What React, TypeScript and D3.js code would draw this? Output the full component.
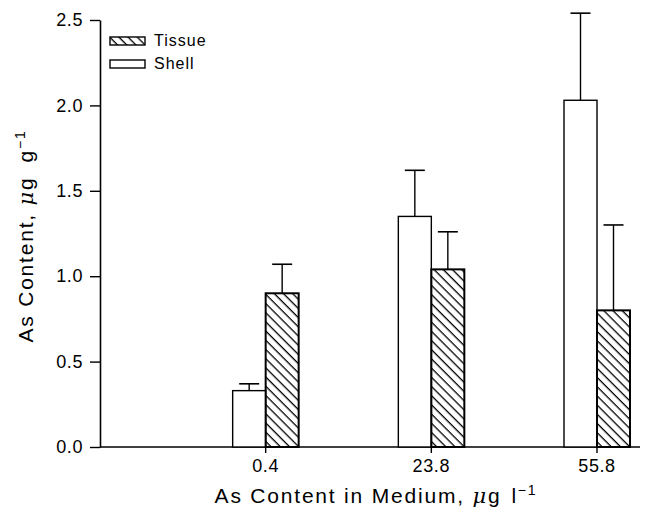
import React, { useEffect, useRef } from "react";
import * as d3 from "d3";

const categories = ["0.4", "23.8", "55.8"];
const shellValues = [0.33, 1.35, 2.03];
const shellErrors = [0.04, 0.27, 0.51];
const tissueValues = [0.9, 1.04, 0.8];
const tissueErrors = [0.17, 0.22, 0.5];
const yTicks = [0, 0.5, 1.0, 1.5, 2.0, 2.5];

const App = () => {
  const ref = useRef<SVGSVGElement>(null);

  useEffect(() => {
    const svg = d3.select(ref.current);
    svg.selectAll("*").remove();

    const width = 645;
    const height = 517;
    const left = 100;
    const font = "'Liberation Sans', Arial, sans-serif";

    const x = d3.scaleLinear().domain([0, 3]).range([left, 597]);
    const y = d3.scaleLinear().domain([0, 2.5]).range([447, 20]);
    const barW = 33;

    svg.attr("width", width).attr("height", height);

    const defs = svg.append("defs");
    const pat = defs
      .append("pattern")
      .attr("id", "hatch")
      .attr("patternUnits", "userSpaceOnUse")
      .attr("width", 6.5)
      .attr("height", 6.5)
      .attr("patternTransform", "rotate(45)");
    pat
      .append("line")
      .attr("x1", 0)
      .attr("y1", 0)
      .attr("x2", 6.5)
      .attr("y2", 0)
      .attr("stroke", "#000")
      .attr("stroke-width", 2.6);

    // y axis
    const yAxis = svg
      .append("g")
      .attr("transform", `translate(${left},0)`)
      .call(
        d3
          .axisLeft(y)
          .tickValues(yTicks)
          .tickFormat(d3.format(".1f"))
          .tickSizeInner(10)
          .tickSizeOuter(0)
      );
    yAxis.select(".domain").attr("stroke-width", 1.6);
    yAxis.selectAll(".tick line").attr("stroke-width", 1.4);
    yAxis
      .selectAll(".tick text")
      .attr("font-family", font)
      .attr("font-size", 18)
      .attr("letter-spacing", 0.6)
      .attr("x", -17)
      .attr("fill", "#000");

    // x axis
    svg
      .append("line")
      .attr("x1", left)
      .attr("x2", 640)
      .attr("y1", y(0))
      .attr("y2", y(0))
      .attr("stroke", "#000")
      .attr("stroke-width", 1.6);

    const xt = svg
      .append("g")
      .selectAll("g")
      .data(categories)
      .enter()
      .append("g")
      .attr("transform", (_, i) => `translate(${x(i + 1)},${y(0)})`);
    xt.append("line").attr("y1", 0).attr("y2", 6).attr("stroke", "#000").attr("stroke-width", 1.4);
    xt.append("text")
      .attr("y", 25)
      .attr("text-anchor", "middle")
      .attr("font-family", font)
      .attr("font-size", 18)
      .attr("letter-spacing", 0.6)
      .text((d) => d);

    // bars
    const drawBars = (vals: number[], errs: number[], offset: number, fill: string, sw: number) => {
      const g = svg.append("g");
      vals.forEach((v, i) => {
        const x0 = x(i + 1) + offset;
        const cx = x0 + barW / 2;
        g.append("line")
          .attr("x1", cx)
          .attr("x2", cx)
          .attr("y1", y(v))
          .attr("y2", y(v + errs[i]))
          .attr("stroke", "#000")
          .attr("stroke-width", 1.4);
        g.append("line")
          .attr("x1", cx - 10)
          .attr("x2", cx + 10)
          .attr("y1", y(v + errs[i]))
          .attr("y2", y(v + errs[i]))
          .attr("stroke", "#000")
          .attr("stroke-width", 1.6);
        g.append("rect")
          .attr("x", x0)
          .attr("y", y(v))
          .attr("width", barW)
          .attr("height", y(0) - y(v))
          .attr("fill", fill)
          .attr("stroke", "#000")
          .attr("stroke-width", sw);
      });
    };
    drawBars(shellValues, shellErrors, -barW, "#fff", 1.4);
    drawBars(tissueValues, tissueErrors, 0, "url(#hatch)", 2);

    // legend
    const legend = [
      { label: "Tissue", fill: "url(#hatch)", y: 37 },
      { label: "Shell", fill: "#fff", y: 60 },
    ];
    const lg = svg.append("g");
    legend.forEach((l) => {
      lg.append("rect")
        .attr("x", 110)
        .attr("y", l.y)
        .attr("width", 35)
        .attr("height", 8)
        .attr("fill", l.fill)
        .attr("stroke", "#000")
        .attr("stroke-width", 1.4);
      lg.append("text")
        .attr("x", 154)
        .attr("y", l.y + 9)
        .attr("font-family", font)
        .attr("font-size", 16)
        .attr("letter-spacing", 1)
        .text(l.label);
    });

    // axis titles
    const xTitle = svg
      .append("text")
      .attr("x", 376)
      .attr("y", 503)
      .attr("text-anchor", "middle")
      .attr("font-family", font)
      .attr("font-size", 21)
      .attr("letter-spacing", 1.8);
    xTitle.append("tspan").text("As Content in Medium, ");
    xTitle.append("tspan").attr("font-style", "italic").attr("font-family", "'DejaVu Serif', serif").text("μ");
    xTitle.append("tspan").text("g");
    xTitle.append("tspan").attr("dx", 10).text("l");
    xTitle.append("tspan").attr("font-size", 14).attr("dy", -8).text("−1");

    const yTitle = svg
      .append("text")
      .attr("transform", `translate(33,236) rotate(-90)`)
      .attr("text-anchor", "middle")
      .attr("font-family", font)
      .attr("font-size", 21)
      .attr("letter-spacing", 1.8);
    yTitle.append("tspan").text("As Content, ");
    yTitle.append("tspan").attr("font-style", "italic").attr("font-family", "'DejaVu Serif', serif").text("μ");
    yTitle.append("tspan").text("g");
    yTitle.append("tspan").attr("dx", 14).text("g");
    yTitle.append("tspan").attr("font-size", 14).attr("dy", -8).text("−1");
  }, []);

  return (
    <div style={{ position: "absolute", left: 0, top: 0 }}>
      <svg ref={ref}></svg>
    </div>
  );
};

export default App;
